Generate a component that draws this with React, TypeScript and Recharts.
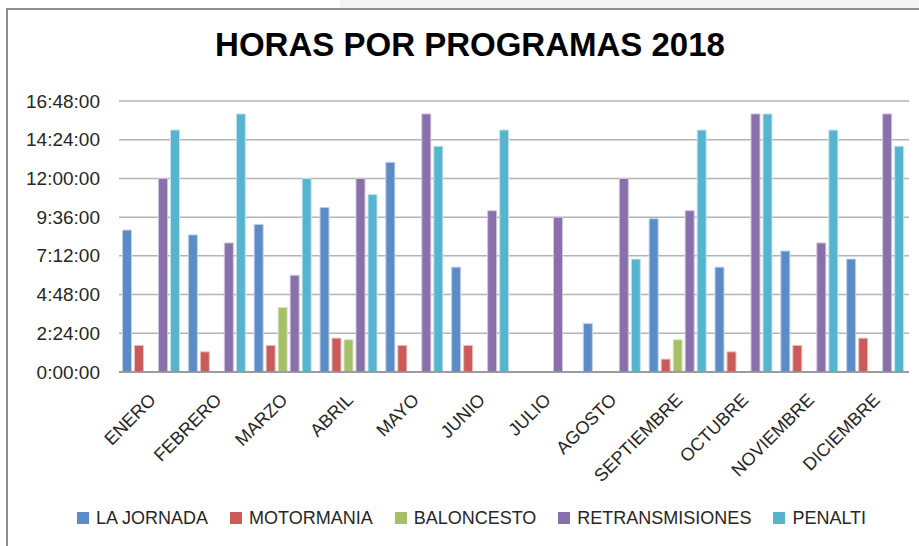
import React from 'react'
import { BarChart, Bar, XAxis, YAxis, CartesianGrid, Legend } from 'recharts'

// horas (decimales) por programa y mes
const months = ['ENERO', 'FEBRERO', 'MARZO', 'ABRIL', 'MAYO', 'JUNIO', 'JULIO', 'AGOSTO', 'SEPTIEMBRE', 'OCTUBRE', 'NOVIEMBRE', 'DICIEMBRE']
const laJornada = [8.8, 8.5, 9.15, 10.2, 13, 6.5, null, 3, 9.5, 6.5, 7.5, 7]
const motormania = [1.65, 1.25, 1.65, 2.1, 1.65, 1.65, null, null, 0.8, 1.25, 1.65, 2.1]
const baloncesto = [null, null, 4, 2, null, null, null, null, 2, null, null, null]
const retransmisiones = [12, 8, 6, 12, 16, 10, 9.6, 12, 10, 16, 8, 16]
const penalti = [15, 16, 12, 11, 14, 15, null, 7, 15, 16, 15, 14]
const yTicks = [0, 2.4, 4.8, 7.2, 9.6, 12, 14.4, 16.8]

const series = [
  { key: 'lj', name: 'LA JORNADA', color: '#5B8CC6', edge: '#BFD0EA', values: laJornada },
  { key: 'moto', name: 'MOTORMANIA', color: '#CB5B58', edge: '#EBC0BF', values: motormania },
  { key: 'bal', name: 'BALONCESTO', color: '#A5C066', edge: '#D9E6C3', values: baloncesto },
  { key: 'ret', name: 'RETRANSMISIONES', color: '#8A70AB', edge: '#D0C5DE', values: retransmisiones },
  { key: 'pen', name: 'PENALTI', color: '#57B4CE', edge: '#C2E4EE', values: penalti },
]

const data = months.map((m, i) => {
  const row: any = { month: m }
  series.forEach(s => { row[s.key] = s.values[i] })
  return row
})

const font = '"Liberation Sans", Arial, sans-serif'

function hms(v: number) {
  const mins = Math.round(v * 60)
  const h = Math.floor(mins / 60)
  const m = mins % 60
  return `${h}:${m < 10 ? '0' + m : m}:00`
}

function YTick({ y, payload }: any) {
  return (
    <text x={100} y={y} dy={6.5} textAnchor="end" fontSize={19} fill="#262626" fontFamily={font}>
      {hms(payload.value)}
    </text>
  )
}

function XTick({ x, y, payload }: any) {
  const tx = x + 5
  const ty = y + 29
  return (
    <text x={tx} y={ty} textAnchor="end" fontSize={18} fill="#262626" fontFamily={font}
      transform={`rotate(-45 ${tx} ${ty})`}>
      {payload.value}
    </text>
  )
}

// leyenda en el orden de las series, no alfabético
function LegendBox() {
  return (
    <div style={{ display: 'flex', justifyContent: 'center', alignItems: 'center', height: 36, fontFamily: font, fontSize: 18, color: '#262626' }}>
      {series.map(s => (
        <div key={s.key} style={{ display: 'flex', alignItems: 'center', marginRight: 22 }}>
          <span style={{ width: 12, height: 12, background: s.color, marginRight: 7, display: 'inline-block' }} />
          <span>{s.name}</span>
        </div>
      ))}
    </div>
  )
}

export default function App() {
  return (
    <div style={{ position: 'relative', width: 919, height: 546, overflow: 'hidden', background: '#fff' }}>
      <style>{'body{margin:0}'}</style>
      <div style={{ position: 'absolute', left: 340, top: 0, width: 600, height: 9, background: '#f4f4f4' }} />
      <div style={{ position: 'absolute', left: 6, top: 8, width: 1000, height: 1000, border: '2px solid #8e8e8e' }} />
      <div style={{ position: 'absolute', left: 0, width: 940, top: 26, textAlign: 'center', fontFamily: font, fontWeight: 'bold', fontSize: 33, color: '#000' }}>
        HORAS POR PROGRAMAS 2018
      </div>
      <BarChart width={919} height={546} data={data} margin={{ top: 101, right: 10, left: 0, bottom: 10 }}
        barCategoryGap={3.5} barGap={3} style={{ position: 'absolute', left: 0, top: 0 }}>
        <CartesianGrid vertical={false} stroke="#b4b4b4" strokeWidth={1.5} />
        <XAxis dataKey="month" interval={0} tickLine={false} tickSize={0} tickMargin={0} height={128}
          stroke="#8c8c8c" strokeWidth={1.5} tick={<XTick />} />
        <YAxis width={119} domain={[0, 16.8]} ticks={yTicks} axisLine={false} tickLine={false} tick={<YTick />} />
        <Legend verticalAlign="bottom" content={<LegendBox />} wrapperStyle={{ left: 0, width: 965, bottom: 10 }} />
        {series.map(s => (
          <Bar key={s.key} dataKey={s.key} name={s.name} fill={s.color} stroke={s.edge} strokeWidth={1}
            isAnimationActive={false} />
        ))}
      </BarChart>
    </div>
  )
}
